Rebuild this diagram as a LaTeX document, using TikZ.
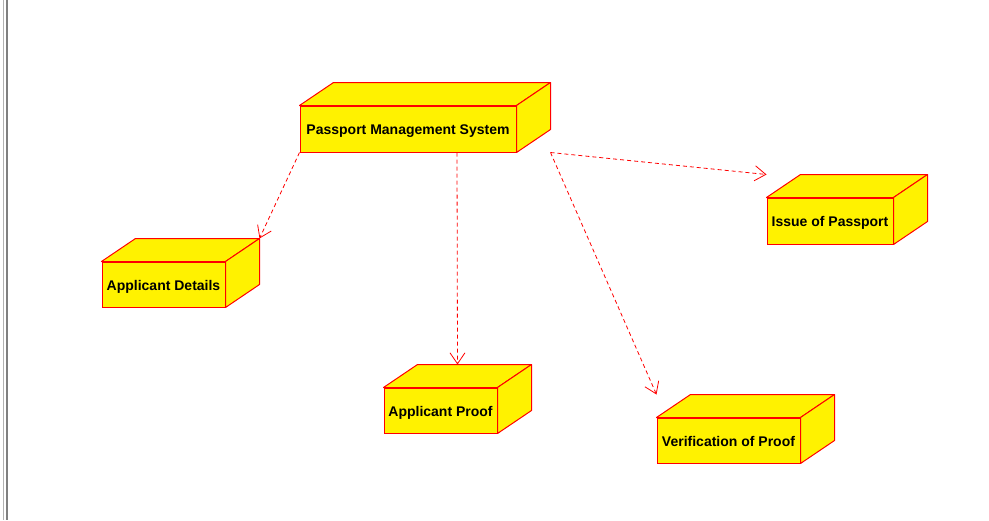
\documentclass[tikz,border=0pt]{standalone}
\usepackage{fontspec}
\setmainfont{Liberation Sans}
\usetikzlibrary{arrows.meta}

\tikzset{
	,font = \bfseries\fontsize{14}{16}\selectfont
	,mynode/.style = {rectangle, draw=red, fill=yellow, line width=1pt, align=center, inner sep=0pt, minimum height=45pt, text height=12pt, text depth=1pt}
	,myface/.style = {draw=red, fill=yellow, line width=1pt, line join=round}
	,edger/.style  = {-{Straight Barb[length=11pt,width=15pt]}, red, line width=0.8pt, dash pattern=on 4pt off 3pt}
}

\begin{document}
\begin{tikzpicture}[x=1pt, y=-1pt]
	\fill[white] (0,0) rectangle (989,520);
	\useasboundingbox (0,0) rectangle (989,520);
	\draw[gray!60, line width=1.6pt] (3.5,0) -- (3.5,520);
	\draw[gray, line width=1.6pt] (7.2,0) -- (7.2,520);

	\node[mynode, minimum width=216pt, minimum height=46pt] at (408.0, 129.0) (pms) {Passport Management System};
	\node[mynode, minimum width=123pt] at (163.5, 284.5) (ad) {Applicant Details};
	\node[mynode, minimum width=113pt] at (440.5, 410.5) (ap) {Applicant Proof};
	\node[mynode, minimum width=126pt, minimum height=46pt] at (830.0, 221.0) (ip) {Issue of Passport};
	\node[mynode, minimum width=143pt] at (728.5, 440.5) (vp) {Verification of Proof};

	\foreach \n in {pms,ad,ap,ip,vp} {
		\draw[myface] (\n.north west) -- ++(34,-23) -- ([shift={(34,-23)}]\n.north east) -- (\n.north east) -- cycle;
		\draw[myface] (\n.north east) -- ++(34,-23) -- ([shift={(34,-23)}]\n.south east) -- (\n.south east) -- cycle;
	}

	\draw[edger] (pms.south west) -- ([shift={(34,-23)}]ad.north east);
	\draw[edger] ([xshift=49pt]pms.south) -- ([shift={(17,-23)}]ap.north);
	\draw[edger] ([xshift=34pt]pms.south east) -- ([yshift=23pt]vp.north west);
	\draw[edger] ([xshift=34pt]pms.south east) -- ([yshift=23pt]ip.north west);
\end{tikzpicture}
\end{document}
